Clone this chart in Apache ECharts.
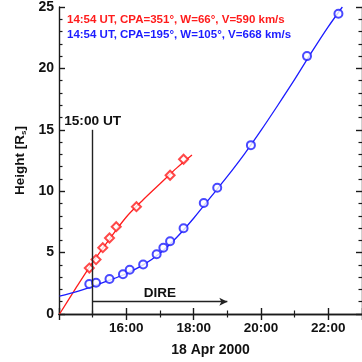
<!DOCTYPE html>
<html><head><meta charset="utf-8">
<script src="https://cdn.jsdelivr.net/npm/echarts@6/dist/echarts.min.js"></script>
<style>html,body{margin:0;padding:0;background:#fff}#c{width:362px;height:362px}</style>
</head><body><div id="c"></div>
<script>
// Data (times in UT on 18 Apr 2000, heights in solar radii)
const redTimes   = ["14:54","15:06","15:18","15:30","15:42","16:18","17:18","17:42"];
const redHeights = [3.74, 4.43, 5.40, 6.19, 7.11, 8.74, 11.3, 12.6];
const blueTimes   = ["14:54","15:06","15:30","15:54","16:06","16:30","16:54","17:06","17:18","17:42","18:18","18:42","19:42","21:22","22:18"];
const blueHeights = [2.45, 2.55, 2.85, 3.24, 3.61, 4.03, 4.87, 5.40, 5.93, 6.98, 9.04, 10.28, 13.75, 21.0, 24.45];
// Fit curves
const redFitTimes   = ["14:01","14:30","15:00","15:30","16:00","16:30","17:00","17:30","17:57"];
const redFitHeights = [0, 2.1, 4.2, 6.1, 7.9, 9.3, 10.6, 11.9, 12.95];
const blueFitTimes   = ["14:01","14:30","15:00","15:30","16:00","16:30","17:00","17:30","18:00","18:30","19:00","19:30","20:00","20:30","21:00","21:30","22:00","22:25"];
const blueFitHeights = [1.45, 1.8, 2.25, 2.75, 3.3, 4.0, 4.95, 6.25, 7.8, 9.5, 11.2, 13.0, 14.95, 17.0, 19.1, 21.3, 23.4, 25.0];
// Annotations
const redLabel  = "14:54 UT, CPA=351°, W=66°, V=590 km/s";
const blueLabel = "14:54 UT, CPA=195°, W=105°, V=668 km/s";
const markTime = "15:00", markTopHeight = 15, markText = "15:00 UT";
const direStart = "15:00", direEnd = "19:00", direHeight = 1, direText = "DIRE";
const xMin = 14, xMax = 23, xStep = 2;
const yMin = 0, yMax = 25, yStep = 5;
const xName = "18 Apr 2000";

function toH(s){ const p = s.split(':'); return Number(p[0]) + Number(p[1]) / 60; }
function pairs(ts, hs){ return ts.map((t, i) => [toH(t), hs[i]]); }
function fmtH(v){ return String(Math.round(v)).padStart(2,'0') + ':00'; }

const RED = '#ff1c1c', BLUE = '#1c1cff', AX = '#1a1a1a';
const FONT = '"Liberation Sans", Arial, Helvetica, sans-serif';

const chart = echarts.init(document.getElementById('c'), null, {renderer: 'canvas'});
const axisCommon = {
  type: 'value',
  axisLine: {show: true, lineStyle: {color: AX, width: 1.4}},
  axisTick: {show: true, inside: true, length: 6, lineStyle: {color: AX, width: 1.4}},
  minorTick: {show: true, length: 3.5, lineStyle: {color: AX, width: 1.2}},
  splitLine: {show: false},
  minorSplitLine: {show: false}
};
chart.setOption({
  animation: false,
  backgroundColor: '#fff',
  textStyle: {fontFamily: FONT},
  grid: {left: 59, top: 7, width: 312, height: 316},
  xAxis: [
    Object.assign({}, axisCommon, {
      min: xMin, max: xMax, interval: xStep, position: 'bottom',
      minorTick: Object.assign({}, axisCommon.minorTick, {splitNumber: 2}),
      axisLabel: {show: true, formatter: fmtH, showMinLabel: false, showMaxLabel: false,
        color: '#111', fontWeight: 'bold', fontSize: 13.5, margin: 7, fontFamily: FONT},
      name: xName, nameLocation: 'middle', nameGap: 29,
      nameTextStyle: {color: '#111', fontWeight: 'bold', fontSize: 14, fontFamily: FONT}
    }),
    Object.assign({}, axisCommon, {
      min: xMin, max: xMax, interval: xStep, position: 'top',
      minorTick: Object.assign({}, axisCommon.minorTick, {splitNumber: 2}),
      axisLabel: {show: false}
    })
  ],
  yAxis: [
    Object.assign({}, axisCommon, {
      min: yMin, max: yMax, interval: yStep, position: 'left',
      minorTick: Object.assign({}, axisCommon.minorTick, {splitNumber: 5}),
      axisLabel: {show: true, color: '#111', fontWeight: 'bold', fontSize: 14, margin: 5, fontFamily: FONT},
      name: 'Height [R{s|s}]', nameLocation: 'middle', nameGap: 27, nameRotate: 90,
      nameTextStyle: {color: '#111', fontWeight: 'bold', fontSize: 13.5, fontFamily: FONT,
        rich: {s: {fontSize: 8, fontWeight: 'bold', color: '#111', verticalAlign: 'bottom', padding: [6,0,0,0], fontFamily: FONT}}}
    }),
    Object.assign({}, axisCommon, {
      min: yMin, max: yMax, interval: yStep, position: 'right',
      minorTick: Object.assign({}, axisCommon.minorTick, {splitNumber: 5}),
      axisLabel: {show: false}
    })
  ],
  graphic: [
    {type: 'text', left: 67, top: 14, z: 100, style: {text: redLabel, fill: RED, font: 'bold 11.5px ' + FONT}},
    {type: 'text', left: 67, top: 29, z: 100, style: {text: blueLabel, fill: BLUE, font: 'bold 11.5px ' + FONT}}
  ],
  series: [
    {
      type: 'line', data: pairs(redFitTimes, redFitHeights), smooth: 0.3, showSymbol: false,
      lineStyle: {color: RED, width: 1.3}, z: 2, silent: true
    },
    {
      type: 'line', data: pairs(blueFitTimes, blueFitHeights), smooth: 0.3, showSymbol: false,
      lineStyle: {color: BLUE, width: 1.3}, z: 2, silent: true
    },
    {
      type: 'scatter', data: pairs(redTimes, redHeights), symbol: 'emptyDiamond', symbolSize: 9,
      itemStyle: {color: RED, borderColor: RED, borderWidth: 1.6}, z: 4
    },
    {
      type: 'scatter', data: pairs(blueTimes, blueHeights), symbol: 'emptyCircle', symbolSize: 8,
      itemStyle: {color: BLUE, borderColor: BLUE, borderWidth: 1.6}, z: 4
    },
    {
      type: 'line', data: [], z: 3,
      markLine: {
        silent: true, animation: false,
        data: [
          [
            {coord: [toH(markTime), 0], symbol: 'none'},
            {coord: [toH(markTime), markTopHeight], symbol: 'none',
              label: {show: true, position: 'end', formatter: markText, color: '#111', fontWeight: 'bold', fontSize: 13.7, fontFamily: FONT, distance: 2}}
          ],
          [
            {coord: [toH(direStart), direHeight], symbol: 'none'},
            {coord: [toH(direEnd), direHeight], symbol: 'arrow', symbolSize: [6, 8],
              label: {show: true, position: 'middle', formatter: direText, color: '#111', fontWeight: 'bold', fontSize: 13.5, fontFamily: FONT, distance: 1}}
          ]
        ],
        lineStyle: {color: '#222', width: 1.4, type: 'solid'}
      }
    }
  ]
});
</script>
</body></html>
